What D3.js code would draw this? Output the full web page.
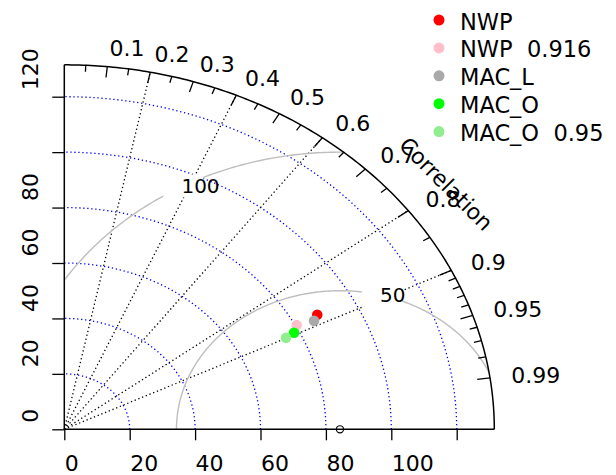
<!DOCTYPE html>
<html>
<head>
<meta charset="utf-8">
<script src="https://cdn.jsdelivr.net/npm/d3@7"></script>
<style>
  html, body { margin: 0; padding: 0; background: #fff; }
  svg { display: block; font-family: "DejaVu Sans", sans-serif; }
</style>
</head>
<body>
<svg id="chart" width="616" height="475"></svg>
<script>
// Taylor diagram: standard deviation (radius) vs correlation (angle)

// ----- Data -----
const models = ["NWP", "NWP  0.916", "MAC_L", "MAC_O", "MAC_O  0.95"];
const modelColors = ["#ff0000", "#ffc0cb", "#a9a9a9", "#00ff00", "#90ee90"];
const modelSD = [87.7, 80.4, 85.8, 78.4, 75.4];
const modelCorr = [0.882, 0.884, 0.890, 0.896, 0.899];

const refSD = 84.3;                       // observed standard deviation
const maxSD = 131.5;                      // outer arc
const sdTicks = [0, 20, 40, 60, 80, 100, 120];
const xTickLabels = ["0", "20", "40", "60", "80", "100", ""];
const yTickLabels = ["0", "20", "40", "60", "80", "", "120"];
const sdGrid = [20, 40, 60, 80, 100, 120];
const corrLabels = [0.1, 0.2, 0.3, 0.4, 0.5, 0.6, 0.7, 0.8, 0.9, 0.95, 0.99];
const corrMinor = [0.05, 0.15, 0.25, 0.35, 0.45, 0.55, 0.65, 0.75, 0.85,
                   0.91, 0.92, 0.93, 0.94, 0.96, 0.97, 0.98];
const corrGrid = [0.2, 0.4, 0.6, 0.8, 0.9];
const gammaLevels = [50, 100];
const gammaLabelAngle = [1.31, 2.07];    // where each RMS label sits (rad)

const FS = 22;

// ----- Scales -----
const svg = d3.select("#chart");
const x = d3.scaleLinear().domain([0, 120]).range([64.3, 456.7]);
const y = d3.scaleLinear().domain([0, 120]).range([429.3, 96.7]);

const polar = (r, c) => [x(r * c), y(r * Math.sqrt(1 - c * c))];
const line = d3.line().x(d => x(d[0])).y(d => y(d[1]));

function arcPoints(r) {
  const pts = [];
  for (let i = 0; i <= 180; i++) {
    const a = (i / 180) * Math.PI / 2;
    pts.push([r * Math.cos(a), r * Math.sin(a)]);
  }
  return pts;
}

// ----- SD grid arcs (blue dotted) -----
svg.append("g").selectAll("path").data(sdGrid).join("path")
  .attr("d", d => line(arcPoints(d)))
  .attr("fill", "none")
  .attr("stroke", "#0000ff")
  .attr("stroke-width", 1.3)
  .attr("stroke-dasharray", "1.3 2.7");

// ----- Correlation rays (black dotted) -----
svg.append("g").selectAll("line").data(corrGrid).join("line")
  .attr("x1", x(0)).attr("y1", y(0))
  .attr("x2", d => polar(maxSD, d)[0])
  .attr("y2", d => polar(maxSD, d)[1])
  .attr("stroke", "#000")
  .attr("stroke-width", 1.3)
  .attr("stroke-dasharray", "1.3 2.7");

// ----- Centred RMS contours (gray) -----
const gammaG = svg.append("g");
gammaLevels.forEach(g => {
  const pts = [];
  for (let a = 0; a <= Math.PI; a += 0.01) {
    const px = refSD + g * Math.cos(a), py = g * Math.sin(a);
    if (px < 0) break;
    if (px * px + py * py <= maxSD * maxSD) pts.push([px, py]);
  }
  gammaG.append("path")
    .attr("d", line(pts))
    .attr("fill", "none")
    .attr("stroke", "#bebebe")
    .attr("stroke-width", 1.4);
});

// RMS labels: white box centred on the curve, text starting at that point
gammaLevels.forEach((g, gi) => {
  const a = gammaLabelAngle[gi];
  const lx = x(refSD + g * Math.cos(a)), ly = y(g * Math.sin(a));
  svg.append("rect")
    .attr("x", lx - 20).attr("y", ly - 11.5)
    .attr("width", 40).attr("height", 23)
    .attr("fill", "#fff");
  svg.append("text")
    .attr("x", lx - 2).attr("y", ly)
    .attr("dominant-baseline", "central")
    .attr("font-size", 20)
    .text(g);
});

// ----- Outer arc + ticks -----
svg.append("path")
  .attr("d", line(arcPoints(maxSD)))
  .attr("fill", "none")
  .attr("stroke", "#000")
  .attr("stroke-width", 1.5);

svg.append("g").selectAll("line").data(corrLabels).join("line")
  .attr("x1", d => polar(maxSD, d)[0]).attr("y1", d => polar(maxSD, d)[1])
  .attr("x2", d => polar(maxSD * 0.97, d)[0]).attr("y2", d => polar(maxSD * 0.97, d)[1])
  .attr("stroke", "#000").attr("stroke-width", 1.3);

svg.append("g").selectAll("line").data(corrMinor).join("line")
  .attr("x1", d => polar(maxSD, d)[0]).attr("y1", d => polar(maxSD, d)[1])
  .attr("x2", d => polar(maxSD * 0.982, d)[0]).attr("y2", d => polar(maxSD * 0.982, d)[1])
  .attr("stroke", "#000").attr("stroke-width", 1.3);

svg.append("g").selectAll("text").data(corrLabels).join("text")
  .attr("x", d => polar(maxSD * 1.05, d)[0])
  .attr("y", d => polar(maxSD * 1.05, d)[1])
  .attr("dominant-baseline", "central")
  .attr("font-size", FS)
  .text(d => d);

svg.append("text")
  .attr("transform", "translate(446,184) rotate(45)")
  .attr("text-anchor", "middle")
  .attr("dominant-baseline", "central")
  .attr("font-size", FS)
  .text("Correlation");

// ----- Axes -----
svg.append("line")
  .attr("x1", x(0)).attr("y1", y(0)).attr("x2", x(0)).attr("y2", y(maxSD))
  .attr("stroke", "#000").attr("stroke-width", 1.5);
svg.append("line")
  .attr("x1", x(0)).attr("y1", y(0)).attr("x2", x(maxSD)).attr("y2", y(0))
  .attr("stroke", "#000").attr("stroke-width", 1.5);

const xAxis = svg.append("g")
  .attr("transform", `translate(0,${y(0)})`)
  .call(d3.axisBottom(x).tickValues(sdTicks).tickSize(11).tickSizeOuter(0)
    .tickFormat((d, i) => xTickLabels[i]));
const yAxis = svg.append("g")
  .attr("transform", `translate(${x(0)},0)`)
  .call(d3.axisLeft(y).tickValues(sdTicks).tickSize(12).tickSizeOuter(0)
    .tickFormat((d, i) => yTickLabels[i]));

[xAxis, yAxis].forEach(a => {
  a.select(".domain").remove();
  a.selectAll("line").attr("stroke", "#000").attr("stroke-width", 1.3);
  a.selectAll("text").attr("fill", "#000").attr("font-size", FS)
    .attr("font-family", "DejaVu Sans, sans-serif");
});
// labels start at the tick (left-aligned), as in the original device output
xAxis.selectAll("text")
  .attr("x", 0).attr("y", 34).attr("dy", null)
  .attr("text-anchor", "start")
  .attr("dominant-baseline", "central");
yAxis.selectAll("text")
  .attr("x", 0).attr("dy", null)
  .attr("text-anchor", "start")
  .attr("dominant-baseline", "central")
  .attr("transform", `translate(${30 - x(0)},-7) rotate(-90)`);

// ----- Reference point -----
svg.append("circle")
  .attr("cx", x(refSD)).attr("cy", y(0)).attr("r", 3.6)
  .attr("fill", "none").attr("stroke", "#000").attr("stroke-width", 1.1);

// ----- Model points -----
svg.append("g").selectAll("circle").data(models).join("circle")
  .attr("cx", (d, i) => polar(modelSD[i], modelCorr[i])[0])
  .attr("cy", (d, i) => polar(modelSD[i], modelCorr[i])[1])
  .attr("r", 5.3)
  .attr("fill", (d, i) => modelColors[i]);

// ----- Legend -----
const leg = svg.append("g").selectAll("g").data(models).join("g")
  .attr("transform", (d, i) => `translate(439,${20 + i * 27.9})`);
leg.append("circle").attr("r", 5.5).attr("fill", (d, i) => modelColors[i]);
leg.append("text")
  .attr("x", 21).attr("y", 1.5)
  .attr("dominant-baseline", "central")
  .attr("font-size", 22.5)
  .style("white-space", "pre")
  .text(d => d);
</script>
</body>
</html>
